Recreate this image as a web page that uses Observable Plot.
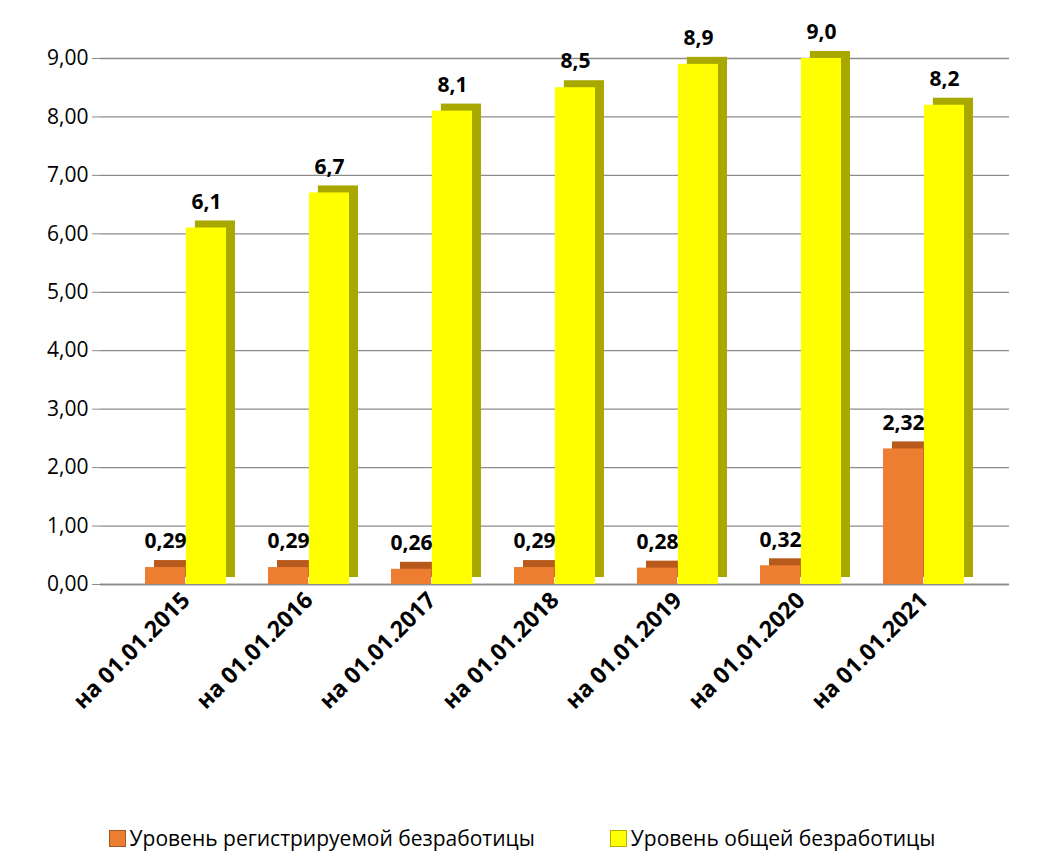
<!DOCTYPE html>
<html>
<head>
<meta charset="utf-8">
<script src="https://cdn.jsdelivr.net/npm/d3@7"></script>
<script src="https://cdn.jsdelivr.net/npm/@observablehq/plot@0.6"></script>
<style>
  body { margin: 0; background: #fff; font-family: "Open Sans", "Liberation Sans", sans-serif; }
  #chart { width: 1044px; height: 824px; }
  .legend { display: flex; justify-content: center; gap: 75px; font-size: 21px; line-height: 28px; color: #000; margin-top: 0px; }
  .legend span.sw { display: inline-block; width: 15px; height: 15px; margin-right: 4px; vertical-align: -1px; border: 1px solid rgba(0,0,0,0.3); }
</style>
</head>
<body>
<div id="chart"></div>
<script>
const categories = ["на 01.01.2015", "на 01.01.2016", "на 01.01.2017", "на 01.01.2018", "на 01.01.2019", "на 01.01.2020", "на 01.01.2021"];
const seriesNames = ["Уровень регистрируемой безработицы", "Уровень общей безработицы"];
const registered = [0.29, 0.29, 0.26, 0.29, 0.28, 0.32, 2.32];
const total = [6.1, 6.7, 8.1, 8.5, 8.9, 9.0, 8.2];
const yTicks = [0, 1, 2, 3, 4, 5, 6, 7, 8, 9];
const colors = ["#ED7D31", "#FFFF00"];
const sideColors = ["#B85A1C", "#A8A800"];

const W = 1044, ML = 100, MR = 35, PAD = 0.34;
const step = (W - ML - MR) / (categories.length + PAD);
const bw = step * (1 - PAD);
const half = bw / 2;

const regData = categories.map((c, i) => ({cat: c, value: registered[i], label: registered[i].toFixed(2).replace(".", ",")}));
const totData = categories.map((c, i) => ({cat: c, value: total[i], label: total[i].toFixed(1).replace(".", ",")}));

const comma = d => d.toFixed(2).replace(".", ",");
const depth = {dx: 9, dy: -7};

const chart = Plot.plot({
  width: W,
  height: 824,
  marginLeft: ML,
  marginRight: MR,
  marginTop: 58,
  marginBottom: 240,
  style: {fontFamily: "'Open Sans', 'Liberation Sans', sans-serif", fontSize: "21px", color: "#000", display: "block"},
  x: {domain: categories, padding: PAD, label: null},
  y: {domain: [0, 9], ticks: yTicks, label: null},
  marks: [
    Plot.gridY(yTicks, {stroke: "#8c8c8c", strokeOpacity: 1, strokeWidth: 1.3}),
    Plot.axisY(yTicks, {tickFormat: comma, fontSize: 21, tickSize: 8, stroke: "#8c8c8c", tickPadding: 4, label: null}),
    Plot.axisX({anchor: "bottom", tickRotate: -45, fontSize: 23, fontWeight: "bold", tickSize: 0, tickPadding: 12, label: null}),
    Plot.ruleY([0], {stroke: "#8c8c8c", strokeWidth: 1.3}),
    Plot.barY(regData, {x: "cat", y: "value", fill: sideColors[0], insetRight: half, ...depth}),
    Plot.barY(regData, {x: "cat", y: "value", fill: colors[0], insetRight: half}),
    Plot.barY(totData, {x: "cat", y: "value", fill: sideColors[1], insetLeft: half, ...depth}),
    Plot.barY(totData, {x: "cat", y: "value", fill: colors[1], insetLeft: half}),
    Plot.text(regData, {x: "cat", y: "value", text: "label", dx: -half / 2, dy: -26, fontSize: 21, fontWeight: "bold", fill: "#000"}),
    Plot.text(totData, {x: "cat", y: "value", text: "label", dx: half / 2, dy: -26, fontSize: 21, fontWeight: "bold", fill: "#000"})
  ]
});
document.getElementById("chart").appendChild(chart);

const legend = document.createElement("div");
legend.className = "legend";
seriesNames.forEach((s, i) => {
  const item = document.createElement("div");
  item.innerHTML = `<span class="sw" style="background:${colors[i]}"></span>${s}`;
  legend.appendChild(item);
});
document.body.appendChild(legend);
</script>
</body>
</html>
